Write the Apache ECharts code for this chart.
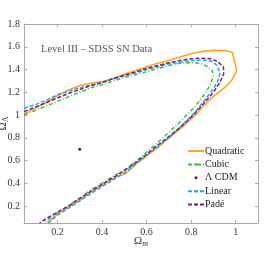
<!DOCTYPE html>
<html><head><meta charset="utf-8">
<script src="https://cdn.jsdelivr.net/npm/echarts@6/dist/echarts.min.js"></script>
<style>html,body{margin:0;padding:0;background:#fff}#c{width:271px;height:262px}</style>
</head><body><div id="c"></div>
<script>
const xTicks = [0.2, 0.4, 0.6, 0.8, 1];
const yTicks = [0.2, 0.4, 0.6, 0.8, 1, 1.2, 1.4, 1.6, 1.8];
const seriesNames = ['Quadratic', 'Cubic', 'Λ CDM', 'Linear', 'Padé'];
const quadratic = [[0.05,1.01],[0.1,1.06],[0.15,1.11],[0.2,1.17],[0.25,1.22],[0.3,1.26],[0.35,1.28],[0.4,1.295],[0.45,1.32],[0.5,1.36],[0.55,1.39],[0.6,1.425],[0.65,1.455],[0.7,1.48],[0.75,1.51],[0.8,1.54],[0.85,1.56],[0.9,1.57],[0.95,1.568],[0.985,1.55],[0.995,1.47],[1.005,1.39],[0.98,1.3],[0.95,1.24],[0.9,1.165],[0.86,1.09],[0.82,1.0],[0.77,0.91],[0.72,0.83],[0.66,0.73],[0.61,0.655],[0.56,0.58],[0.51,0.49],[0.47,0.46],[0.43,0.42],[0.4,0.38],[0.35,0.32],[0.3,0.25],[0.25,0.19],[0.2,0.13],[0.17,0.08],[0.155,0.05]];
const cubic = [[0.05,1.0],[0.1,1.04],[0.15,1.08],[0.2,1.12],[0.25,1.16],[0.3,1.2],[0.35,1.24],[0.4,1.265],[0.45,1.3],[0.5,1.33],[0.55,1.355],[0.6,1.38],[0.65,1.41],[0.7,1.435],[0.75,1.455],[0.8,1.46],[0.84,1.455],[0.87,1.43],[0.895,1.39],[0.9,1.35],[0.89,1.29],[0.87,1.21],[0.84,1.13],[0.8,1.04],[0.76,0.96],[0.72,0.885],[0.68,0.81],[0.64,0.74],[0.6,0.675],[0.56,0.605],[0.52,0.545],[0.5,0.515],[0.45,0.46],[0.4,0.4],[0.35,0.34],[0.3,0.27],[0.25,0.2],[0.2,0.14],[0.15,0.07],[0.14,0.05]];
const lcdm = [[0.3, 0.7]];
const linear = [[0.05,1.06],[0.1,1.09],[0.15,1.13],[0.2,1.18],[0.25,1.21],[0.3,1.24],[0.35,1.265],[0.4,1.285],[0.45,1.32],[0.5,1.345],[0.55,1.37],[0.6,1.4],[0.65,1.425],[0.7,1.45],[0.75,1.465],[0.8,1.478],[0.85,1.485],[0.89,1.475],[0.915,1.44],[0.93,1.37],[0.92,1.3],[0.9,1.23],[0.86,1.13],[0.82,1.03],[0.76,0.91],[0.7,0.8],[0.65,0.72],[0.6,0.645],[0.55,0.57],[0.5,0.49],[0.45,0.43],[0.4,0.37],[0.35,0.31],[0.3,0.245],[0.25,0.18],[0.2,0.12],[0.16,0.05]];
const pade = [[0.05,1.03],[0.1,1.07],[0.15,1.11],[0.2,1.15],[0.25,1.19],[0.3,1.225],[0.35,1.26],[0.4,1.285],[0.45,1.32],[0.5,1.35],[0.55,1.38],[0.6,1.41],[0.65,1.435],[0.7,1.46],[0.75,1.48],[0.8,1.495],[0.85,1.5],[0.89,1.495],[0.92,1.47],[0.945,1.42],[0.946,1.36],[0.93,1.29],[0.9,1.2],[0.86,1.11],[0.81,1.0],[0.75,0.89],[0.7,0.81],[0.64,0.72],[0.6,0.655],[0.55,0.58],[0.5,0.51],[0.45,0.45],[0.4,0.39],[0.35,0.33],[0.3,0.265],[0.25,0.2],[0.2,0.145],[0.15,0.09],[0.12,0.05]];

const FONT = '"Liberation Serif", "Times New Roman", serif';
const frame = '#a8a8a8';
function axisBase(extra) {
  return Object.assign({
    type: 'value',
    axisLine: { show: true, lineStyle: { color: frame, width: 1 } },
    splitLine: { show: false },
  }, extra);
}
function ticks(vals) { return { show: true, inside: true, length: 3, lineStyle: { color: frame }, customValues: vals }; }
const chart = echarts.init(document.getElementById('c'), null, { renderer: 'canvas' });
const lbl = { fontFamily: FONT, fontSize: 10, color: '#333', margin: 4, showMaxLabel: true, showMinLabel: true, hideOverlap: false, formatter: v => String(v) };
chart.setOption({
  animation: false,
  textStyle: { fontFamily: FONT },
  grid: { left: 24, right: 13, top: 24, bottom: 39, containLabel: false, outerBoundsMode: 'none' },
  xAxis: [
    axisBase({ min: 0.05, max: 1.1, position: 'bottom', axisTick: ticks(xTicks),
      axisLabel: Object.assign({ customValues: xTicks }, lbl),
      name: '{a|Ω}{b|m}', nameLocation: 'middle', nameGap: 11, nameMoveOverlap: false,
      nameTextStyle: { rich: { a: { fontFamily: FONT, fontSize: 11, color: '#333' }, b: { fontFamily: FONT, fontSize: 8, fontStyle: 'italic', color: '#333', padding: [6, 0, 0, 0] } } } }),
    axisBase({ min: 0.05, max: 1.1, position: 'top', axisTick: ticks(xTicks), axisLabel: { show: false } })
  ],
  yAxis: [
    axisBase({ min: 0.05, max: 1.801, position: 'left', axisTick: ticks(yTicks),
      axisLabel: Object.assign({ customValues: yTicks }, lbl),
      name: '{a|Ω}{b|Λ}', nameLocation: 'middle', nameGap: 14, nameRotate: 90, nameMoveOverlap: false,
      nameTextStyle: { rich: { a: { fontFamily: FONT, fontSize: 11, color: '#333' }, b: { fontFamily: FONT, fontSize: 8, color: '#333', padding: [6, 0, 0, 0] } } } }),
    axisBase({ min: 0.05, max: 1.801, position: 'right', axisTick: ticks(yTicks), axisLabel: { show: false } })
  ],
  legend: {
    orient: 'vertical', left: 187, top: 146, padding: 0, itemWidth: 16, itemHeight: 3, itemGap: 3.4,
    textStyle: { fontFamily: FONT, fontSize: 10, color: '#222', lineHeight: 10, padding: [0, 0, 0, -4] },
    data: seriesNames.map(n => n === 'Λ CDM' ? { name: n, icon: 'circle' } : { name: n })
  },
  graphic: [{ type: 'text', left: 41, top: 44, style: { text: 'Level III – SDSS SN Data', font: '10.5px "Liberation Serif", serif', fill: '#555' } }],
  series: [
    { name: 'Quadratic', type: 'line', data: quadratic, symbol: 'none', lineStyle: { color: '#FFA51F', width: 1.6, type: 'solid' }, itemStyle: { color: '#FFA51F' }, z: 2 },
    { name: 'Cubic', type: 'line', data: cubic, symbol: 'none', lineStyle: { color: '#3DBE3D', width: 1.5, type: [4, 2, 1, 2] }, itemStyle: { color: '#3DBE3D' }, z: 3 },
    { name: 'Λ CDM', type: 'scatter', data: lcdm, symbol: 'circle', symbolSize: 3, itemStyle: { color: '#000' }, z: 5 },
    { name: 'Linear', type: 'line', data: linear, symbol: 'none', lineStyle: { color: '#22A8E0', width: 1.5, type: [4, 2] }, itemStyle: { color: '#22A8E0' }, z: 4 },
    { name: 'Padé', type: 'line', data: pade, symbol: 'none', lineStyle: { color: '#7B1A8E', width: 1.5, type: [4, 2] }, itemStyle: { color: '#7B1A8E' }, z: 4 }
  ]
});
</script></body></html>
